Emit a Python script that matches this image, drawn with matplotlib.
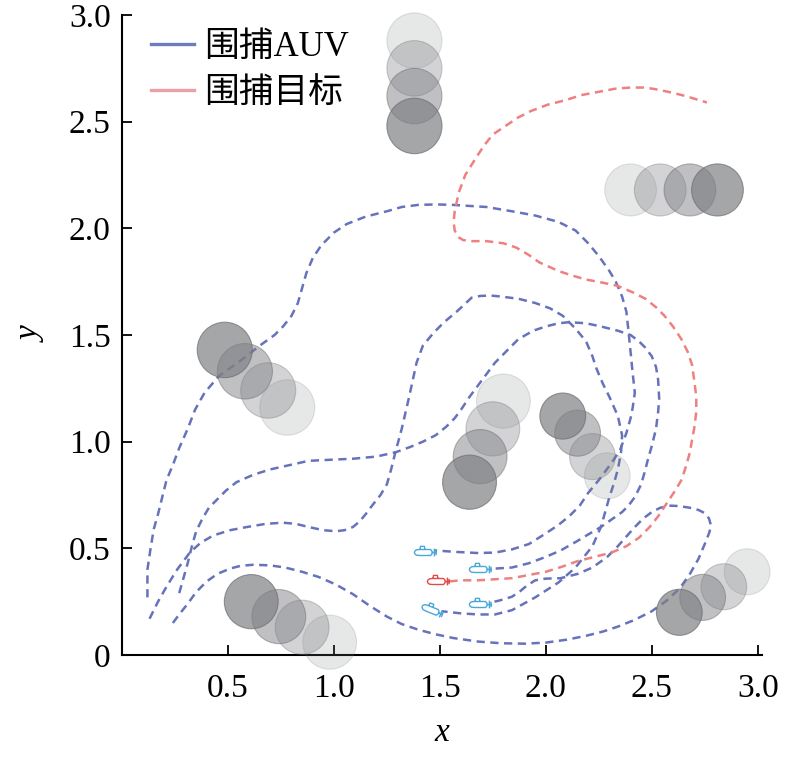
import numpy as np
import matplotlib
matplotlib.use("Agg")
import matplotlib.pyplot as plt
from matplotlib.path import Path
from matplotlib.markers import MarkerStyle
from matplotlib.transforms import Affine2D
from matplotlib.patches import Circle
from matplotlib.lines import Line2D

plt.rcParams['font.family'] = ['Liberation Serif', 'Noto Sans CJK SC']

# ---- trajectories ----
auv1_x = [0.12, 0.12, 0.135, 0.15, 0.17, 0.19, 0.21, 0.24, 0.27, 0.31, 0.345, 0.39, 0.46, 0.51, 0.56, 0.65,
          0.72, 0.76, 0.80, 0.83, 0.85, 0.87, 0.90, 0.94, 1.00, 1.06, 1.15, 1.25, 1.32, 1.40, 1.48, 1.56,
          1.64, 1.72, 1.84, 1.95, 2.06, 2.14, 2.20, 2.25, 2.30, 2.33, 2.36, 2.38, 2.39, 2.40, 2.41, 2.42,
          2.41, 2.40, 2.38, 2.35, 2.31, 2.25, 2.20, 2.16, 2.11, 2.06, 2.00, 1.92, 1.84, 1.76, 1.68, 1.58,
          1.475]
auv1_y = [0.27, 0.40, 0.50, 0.59, 0.66, 0.74, 0.82, 0.89, 0.97, 1.06, 1.15, 1.23, 1.31, 1.345, 1.38, 1.45,
          1.50, 1.54, 1.59, 1.65, 1.72, 1.79, 1.86, 1.92, 1.98, 2.02, 2.055, 2.08, 2.10, 2.11, 2.112, 2.11,
          2.105, 2.10, 2.08, 2.06, 2.03, 1.99, 1.93, 1.87, 1.80, 1.75, 1.68, 1.61, 1.52, 1.42, 1.32, 1.23,
          1.16, 1.11, 1.04, 0.96, 0.90, 0.82, 0.76, 0.70, 0.65, 0.61, 0.57, 0.52, 0.495, 0.48, 0.478, 0.483,
          0.49]

auv2_x = [0.13, 0.17, 0.21, 0.26, 0.32, 0.37, 0.43, 0.51, 0.59, 0.68, 0.76, 0.82, 0.88, 0.95, 1.01, 1.05,
          1.09, 1.12, 1.15, 1.18, 1.22, 1.25, 1.27, 1.29, 1.32, 1.355, 1.39, 1.42, 1.47, 1.52, 1.58, 1.65,
          1.69, 1.74, 1.79, 1.87, 1.95, 2.02, 2.08, 2.14, 2.19, 2.22, 2.24, 2.27, 2.30, 2.34, 2.36, 2.355,
          2.34, 2.32, 2.30, 2.28, 2.26, 2.22, 2.18, 2.14, 2.06, 1.95, 1.84, 1.76, 1.68, 1.60, 1.51]
auv2_y = [0.17, 0.25, 0.32, 0.40, 0.48, 0.525, 0.56, 0.585, 0.60, 0.615, 0.62, 0.615, 0.60, 0.585, 0.58, 0.585,
          0.60, 0.625, 0.66, 0.70, 0.75, 0.80, 0.87, 0.95, 1.06, 1.21, 1.37, 1.45, 1.51, 1.56, 1.61, 1.675,
          1.683, 1.685, 1.68, 1.67, 1.65, 1.625, 1.59, 1.53, 1.47, 1.40, 1.34, 1.27, 1.21, 1.12, 1.03, 0.95,
          0.87, 0.80, 0.74, 0.67, 0.60, 0.51, 0.46, 0.41, 0.34, 0.27, 0.21, 0.19, 0.19, 0.195, 0.205]

auv3_x = [0.27, 0.29, 0.31, 0.33, 0.35, 0.38, 0.41, 0.45, 0.49, 0.54, 0.62, 0.70, 0.79, 0.88, 0.98, 1.09,
          1.20, 1.29, 1.36, 1.42, 1.48, 1.53, 1.57, 1.60, 1.64, 1.70, 1.76, 1.82, 1.87, 1.94, 2.00, 2.06,
          2.11, 2.19, 2.26, 2.34, 2.40, 2.44, 2.47, 2.50, 2.52, 2.53, 2.535, 2.53, 2.52, 2.50, 2.48, 2.47,
          2.45, 2.42, 2.39, 2.36, 2.31, 2.26, 2.20, 2.15, 2.07, 2.00, 1.92, 1.84, 1.76, 1.735]
auv3_y = [0.29, 0.36, 0.43, 0.51, 0.58, 0.64, 0.69, 0.73, 0.77, 0.81, 0.845, 0.87, 0.89, 0.91, 0.915, 0.92,
          0.93, 0.95, 0.975, 1.00, 1.03, 1.07, 1.11, 1.15, 1.21, 1.29, 1.37, 1.43, 1.48, 1.52, 1.54, 1.555,
          1.56, 1.555, 1.54, 1.52, 1.50, 1.47, 1.44, 1.40, 1.35, 1.29, 1.20, 1.14, 1.06, 0.98, 0.91, 0.87,
          0.80, 0.74, 0.70, 0.67, 0.635, 0.60, 0.565, 0.535, 0.49, 0.46, 0.43, 0.41, 0.405, 0.405]

auv4_x = [0.24, 0.27, 0.31, 0.35, 0.40, 0.45, 0.51, 0.56, 0.62, 0.70, 0.77, 0.85, 0.93, 1.01, 1.09, 1.17,
          1.25, 1.32, 1.40, 1.48, 1.56, 1.68, 1.79, 1.90, 2.00, 2.10, 2.19, 2.27, 2.34, 2.42, 2.50, 2.57,
          2.63, 2.68, 2.72, 2.75, 2.77, 2.78, 2.77, 2.75, 2.72, 2.68, 2.63, 2.59, 2.54, 2.50, 2.46, 2.42,
          2.38, 2.34, 2.29, 2.22, 2.15, 2.07, 2.00, 1.95, 1.91, 1.88, 1.84, 1.78, 1.735]
auv4_y = [0.15, 0.19, 0.24, 0.295, 0.345, 0.38, 0.405, 0.418, 0.423, 0.42, 0.41, 0.39, 0.365, 0.33, 0.285, 0.23,
          0.18, 0.145, 0.118, 0.097, 0.08, 0.063, 0.055, 0.053, 0.058, 0.072, 0.09, 0.11, 0.133, 0.165, 0.205, 0.255,
          0.31, 0.38, 0.45, 0.52, 0.57, 0.605, 0.64, 0.665, 0.68, 0.69, 0.698, 0.70, 0.69, 0.67, 0.64, 0.60,
          0.555, 0.51, 0.46, 0.41, 0.38, 0.36, 0.358, 0.35, 0.325, 0.30, 0.273, 0.255, 0.245]

target_x = [1.545, 1.60, 1.68, 1.76, 1.84, 1.92, 2.00, 2.08, 2.15, 2.23, 2.31, 2.38, 2.44, 2.49, 2.53, 2.57,
            2.61, 2.64, 2.66, 2.68, 2.69, 2.70, 2.71, 2.71, 2.70, 2.69, 2.67, 2.64, 2.60, 2.56, 2.52, 2.47,
            2.41, 2.34, 2.27, 2.19, 2.12, 2.06, 1.97, 1.92, 1.86, 1.80, 1.72, 1.65, 1.61, 1.585, 1.57, 1.565,
            1.57, 1.59, 1.62, 1.67, 1.71, 1.75, 1.81, 1.87, 1.93, 2.01, 2.09, 2.17, 2.25, 2.33, 2.40, 2.47,
            2.53, 2.60, 2.66, 2.71, 2.76]
target_y = [0.345, 0.35, 0.35, 0.355, 0.36, 0.375, 0.39, 0.415, 0.44, 0.46, 0.48, 0.51, 0.55, 0.60, 0.65, 0.71,
            0.77, 0.82, 0.88, 0.95, 1.01, 1.06, 1.14, 1.21, 1.29, 1.36, 1.42, 1.48, 1.54, 1.59, 1.63, 1.67,
            1.70, 1.73, 1.745, 1.76, 1.78, 1.80, 1.84, 1.875, 1.91, 1.93, 1.94, 1.94, 1.945, 1.96, 1.99, 2.03,
            2.08, 2.17, 2.25, 2.33, 2.39, 2.44, 2.48, 2.52, 2.55, 2.58, 2.60, 2.625, 2.64, 2.655, 2.66, 2.66,
            2.65, 2.635, 2.62, 2.605, 2.59]

# final positions (icons)
auv_end_x = [1.43, 1.69, 1.465, 1.69]
auv_end_y = [0.485, 0.405, 0.21, 0.24]
auv_end_rot = [0, 0, -22, 0]
target_end_x = 1.49
target_end_y = 0.345

# moving obstacles: each group listed from earliest (light) to latest (dark)
obs_groups_x = [[1.38, 1.38, 1.38, 1.38],
                [2.40, 2.54, 2.68, 2.81],
                [0.78, 0.69, 0.58, 0.485],
                [0.98, 0.85, 0.74, 0.61],
                [1.80, 1.75, 1.69, 1.64],
                [2.29, 2.22, 2.15, 2.08],
                [2.95, 2.84, 2.74, 2.63]]
obs_groups_y = [[2.88, 2.75, 2.62, 2.48],
                [2.18, 2.18, 2.18, 2.18],
                [1.16, 1.24, 1.33, 1.43],
                [0.06, 0.13, 0.18, 0.25],
                [1.19, 1.06, 0.93, 0.81],
                [0.84, 0.93, 1.04, 1.12],
                [0.39, 0.32, 0.27, 0.20]]
obs_radius = [0.13, 0.122, 0.13, 0.127, 0.127, 0.108, 0.108]

legend_labels = ['围捕AUV', '围捕目标']
xticks = [0.5, 1.0, 1.5, 2.0, 2.5, 3.0]
yticks = [0, 0.5, 1.0, 1.5, 2.0, 2.5, 3.0]
ytick_labels = ['0', '0.5', '1.0', '1.5', '2.0', '2.5', '3.0']

blue = '#6673bb'
red = '#ee8080'
icon_blue = '#4aa8d8'
icon_red = '#e04a4a'


def sub_marker(rot):
    # small submarine outline, nose to the left
    verts = [(-0.55, -0.27), (-0.82, -0.24), (-0.96, -0.12), (-1.0, 0.0), (-0.96, 0.12), (-0.82, 0.24),
             (-0.55, 0.27), (0.45, 0.27), (0.56, 0.16), (0.6, 0.0), (0.56, -0.16), (0.45, -0.27), (-0.55, -0.27),
             (-0.5, 0.27), (-0.45, 0.55), (-0.1, 0.55), (-0.05, 0.27),
             (0.6, 0.0), (1.0, 0.0),
             (0.8, 0.35), (0.8, -0.35),
             (0.95, 0.25), (0.95, -0.25)]
    codes = ([Path.MOVETO] + [Path.LINETO] * 11 + [Path.CLOSEPOLY] +
             [Path.MOVETO, Path.LINETO, Path.LINETO, Path.LINETO] +
             [Path.MOVETO, Path.LINETO] + [Path.MOVETO, Path.LINETO] + [Path.MOVETO, Path.LINETO])
    return MarkerStyle(Path(verts, codes), transform=Affine2D().rotate_deg(rot))


fig = plt.figure(figsize=(7.87, 7.58), dpi=100)
ax = fig.add_axes([0.155, 0.1359, 0.8132, 0.8443])

dash = (0, (3.3, 2.2))
for px, py in [(auv1_x, auv1_y), (auv2_x, auv2_y), (auv3_x, auv3_y), (auv4_x, auv4_y)]:
    ax.plot(px, py, color=blue, lw=1.8, linestyle=dash, zorder=2)
ax.plot(target_x, target_y, color=red, lw=1.8, linestyle=dash, zorder=2)

for i in range(len(auv_end_x)):
    ax.plot(auv_end_x[i], auv_end_y[i], marker=sub_marker(auv_end_rot[i]), markersize=16,
            markerfacecolor='none', markeredgecolor=icon_blue, markeredgewidth=1.0, linestyle='none', zorder=4)
ax.plot(target_end_x, target_end_y, marker=sub_marker(0), markersize=16,
        markerfacecolor='none', markeredgecolor=icon_red, markeredgewidth=1.0, linestyle='none', zorder=4)

alphas = [0.19, 0.34, 0.49, 0.70]
for gx, gy, r in zip(obs_groups_x, obs_groups_y, obs_radius):
    for k in range(4):
        c = Circle((gx[k], gy[k]), r, facecolor='#7f8084', alpha=alphas[k],
                   edgecolor='#6e6f73', lw=0.8, zorder=3, clip_on=False)
        ax.add_patch(c)

ax.set_xlim(0, 3.02)
ax.set_ylim(0, 3.0)
ax.set_xticks(xticks)
ax.set_xticklabels(['%.1f' % v for v in xticks])
ax.set_yticks(yticks)
ax.set_yticklabels(ytick_labels)
ax.spines['top'].set_visible(False)
ax.spines['right'].set_visible(False)
ax.spines['left'].set_linewidth(1.5)
ax.spines['bottom'].set_linewidth(1.5)
ax.tick_params(axis='both', direction='in', length=7, width=1.3, labelsize=24)
ax.tick_params(axis='x', pad=13)
ax.tick_params(axis='y', pad=8)
ax.set_xlabel('x', fontsize=24, fontstyle='italic', labelpad=10)
ax.set_ylabel('y', fontsize=24, fontstyle='italic', labelpad=16)

handles = [Line2D([], [], color='#6e7bbf', lw=2.4), Line2D([], [], color='#eaa0a6', lw=2.4)]
ax.legend(handles, legend_labels, loc='upper left', bbox_to_anchor=(0.045, 0.975), frameon=False,
          fontsize=25, handlelength=1.25, handletextpad=0.3, labelspacing=0.38,
          borderpad=0, borderaxespad=0)

fig.savefig('out.png', dpi=100)
